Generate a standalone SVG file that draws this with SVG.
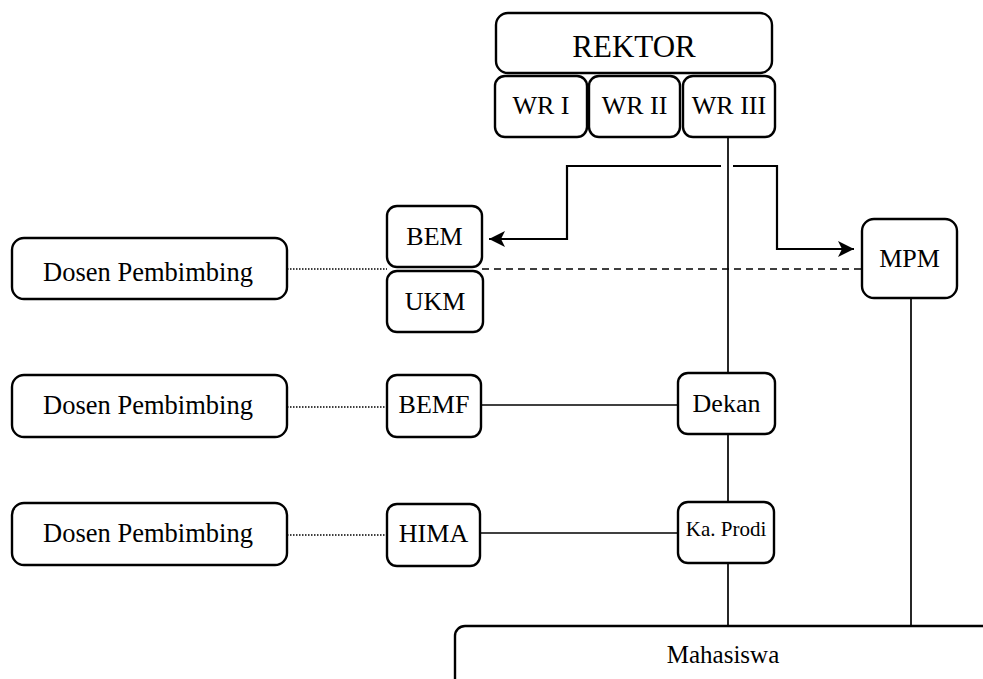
<svg xmlns="http://www.w3.org/2000/svg" width="983" height="679" viewBox="0 0 983 679">
<style>
.box{fill:#fff;stroke:#000;stroke-width:2.4}
.t{font-family:"Liberation Serif","Times New Roman",serif;font-size:26px;fill:#000;text-anchor:middle}
.c{fill:none;stroke:#000;stroke-width:1.7}
.arr{fill:none;stroke:#000;stroke-width:2.2}
.dash{fill:none;stroke:#000;stroke-width:1.7;stroke-dasharray:7 5}
.dot{fill:none;stroke:#000;stroke-width:1.5;stroke-dasharray:1.5 1.5}
</style>
<defs>
<marker id="ah" markerUnits="userSpaceOnUse" markerWidth="20" markerHeight="18" refX="16" refY="8" orient="auto">
<path d="M0,0 L16,8 L0,16 L4,8 Z" fill="#000"/>
</marker>
</defs>
<g id="connectors">
<line class="c" x1="728" y1="137" x2="728" y2="373"/>
<line class="c" x1="728" y1="434" x2="728" y2="502"/>
<line class="c" x1="728" y1="563" x2="728" y2="626"/>
<line class="c" x1="911" y1="298" x2="911" y2="626"/>
<line class="c" x1="481" y1="405" x2="678" y2="405"/>
<line class="c" x1="480" y1="533" x2="678" y2="533"/>
<polyline class="arr" points="721,166 567,166 567,239 489,239" marker-end="url(#ah)"/>
<polyline class="arr" points="733,166 777,166 777,249 854,249" marker-end="url(#ah)"/>
<line class="dash" x1="482" y1="269" x2="862" y2="269"/>
<line class="dot" x1="287" y1="269" x2="387" y2="269"/>
<line class="dot" x1="287" y1="407" x2="387" y2="407"/>
<line class="dot" x1="287" y1="535" x2="387" y2="535"/>
</g>
<g id="rektor"><rect class="box" x="496" y="13" width="276" height="60" rx="12"/><text class="t" x="634" y="57" style="font-size:31px">REKTOR</text></g>
<g id="wr1"><rect class="box" x="495" y="76" width="92" height="61" rx="10"/><text class="t" x="541" y="114">WR I</text></g>
<g id="wr2"><rect class="box" x="589" y="76" width="91" height="61" rx="10"/><text class="t" x="634.5" y="114">WR II</text></g>
<g id="wr3"><rect class="box" x="683" y="76" width="92" height="61" rx="10"/><text class="t" x="729" y="114">WR III</text></g>
<g id="bem"><rect class="box" x="387" y="206" width="95" height="61" rx="10"/><text class="t" x="434.5" y="245">BEM</text></g>
<g id="ukm"><rect class="box" x="387" y="271" width="96" height="61" rx="10"/><text class="t" x="435" y="310">UKM</text></g>
<g id="mpm"><rect class="box" x="862" y="219" width="95" height="79" rx="12"/><text class="t" x="909.5" y="267">MPM</text></g>
<g id="dosen1"><rect class="box" x="12" y="238" width="275" height="61" rx="12"/><text class="t" x="148" y="281" style="font-size:26.5px">Dosen Pembimbing</text></g>
<g id="dosen2"><rect class="box" x="12" y="375" width="275" height="62" rx="12"/><text class="t" x="148" y="414" style="font-size:26.5px">Dosen Pembimbing</text></g>
<g id="dosen3"><rect class="box" x="12" y="503" width="275" height="62" rx="12"/><text class="t" x="148" y="542" style="font-size:26.5px">Dosen Pembimbing</text></g>
<g id="bemf"><rect class="box" x="387" y="375" width="94" height="62" rx="10"/><text class="t" x="434" y="413">BEMF</text></g>
<g id="hima"><rect class="box" x="387" y="504" width="93" height="62" rx="10"/><text class="t" x="433.5" y="542">HIMA</text></g>
<g id="dekan"><rect class="box" x="678" y="373" width="97" height="61" rx="10"/><text class="t" x="726.5" y="412">Dekan</text></g>
<g id="kaprodi"><rect class="box" x="678" y="502" width="96" height="61" rx="10"/><text class="t" x="726" y="536" style="font-size:21px">Ka. Prodi</text></g>
<g id="mahasiswa"><rect class="box" x="455" y="626" width="600" height="120" rx="10"/><text class="t" x="723" y="663" style="font-size:25px">Mahasiswa</text></g>
</svg>
